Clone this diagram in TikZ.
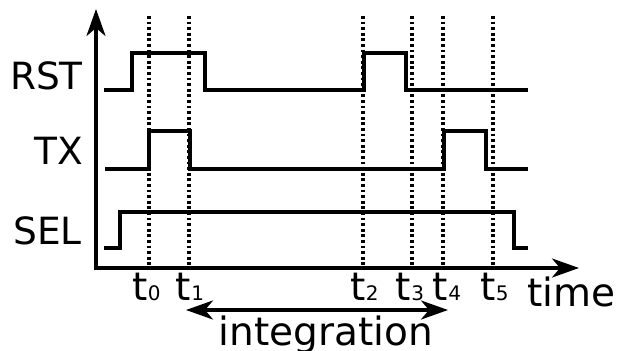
\documentclass[tikz,border=0pt]{standalone}
\usepackage{fontspec}
\setmainfont{DejaVu Sans}
\usetikzlibrary{arrows.meta}
\begin{document}
\begin{tikzpicture}[x=1pt,y=-1pt,
  sig/.style={line width=3.4pt, line join=miter},
  axis/.style={line width=3.4pt, -{Stealth[length=27pt,width=19pt,inset=8pt]}},
  dots/.style={line width=3.2pt, dash pattern=on 2.8pt off 2.8pt},
  lbl/.style={inner sep=0pt, font=\fontsize{37.5}{42}\selectfont},
  tl/.style={inner sep=0pt, anchor=base, font=\fontsize{39}{42}\selectfont}]
\useasboundingbox (0,0) rectangle (619,351);
% dotted time markers
\foreach \x/\n in {149/0,189/1,363/2,412/3,443/4,493/5}{
  \draw[dots] (\x,16) -- (\x,268);
}
% axes
\coordinate (O) at (96,268);
\coordinate (Ytop) at (96,9);
\coordinate (Xend) at (579,268);
\draw[axis] (O) -- (Ytop);
\draw[axis] ([xshift=-1.7pt]O) -- (Xend);
% signals
\draw[sig] (104,90) -- (132,90) -- (132,53) -- (205,53) -- (205,90) -- (364,90) -- (364,53) -- (406,53) -- (406,90) -- (528,90);
\draw[sig] (105,169) -- (149,169) -- (149,131) -- (190,131) -- (190,169) -- (444,169) -- (444,131) -- (486,131) -- (486,169) -- (528,169);
\draw[sig] (104,248) -- (120,248) -- (120,212) -- (514,212) -- (514,248) -- (528,248);
% signal labels
\node[lbl, anchor=base east] (rst) at (83,89) {RST};
\node[lbl, anchor=base east] (tx) at (83,164) {TX};
\node[lbl, anchor=base east] (sel) at (82,244) {SEL};
% time labels
\node[tl] (t0) at (146.5,300) {t{\fontsize{20}{20}\selectfont 0}};
\node[tl] (t1) at (190,300) {t{\fontsize{20}{20}\selectfont 1}};
\node[tl] (t2) at (364.5,300) {t{\fontsize{20}{20}\selectfont 2}};
\node[tl] (t3) at (410,300) {t{\fontsize{20}{20}\selectfont 3}};
\node[tl] (t4) at (447,300) {t{\fontsize{20}{20}\selectfont 4}};
\node[tl] (t5) at (494.5,300) {t{\fontsize{20}{20}\selectfont 5}};
\node[tl, anchor=base west] (time) at (527,306) {time};
% integration arrow
\coordinate (iL) at (186,310);
\coordinate (iR) at (448,310);
\draw[line width=3.4pt, {Stealth[length=27pt,width=19pt,inset=8pt]}-{Stealth[length=27pt,width=19pt,inset=8pt]}] (iL) -- (iR);
\node[tl] (integ) at (326,345) {integration};
\end{tikzpicture}
\end{document}
